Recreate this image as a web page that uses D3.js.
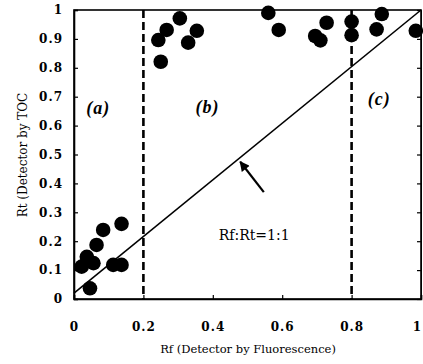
<!DOCTYPE html>
<html><head><meta charset="utf-8">
<script src="https://cdn.jsdelivr.net/npm/d3@7"></script>
<style>body{margin:0;background:#fff;} svg{display:block;}</style>
</head><body>
<script>
// Data
const rfValues = [0.046, 0.022, 0.037, 0.056, 0.065, 0.084, 0.137, 0.113, 0.137,
                  0.243, 0.25, 0.267, 0.305, 0.329, 0.354, 0.56, 0.59, 0.695, 0.71, 0.728,
                  0.80, 0.80, 0.872, 0.887, 0.985];
const rtValues = [0.037, 0.112, 0.146, 0.124, 0.187, 0.239, 0.26, 0.118, 0.118,
                  0.896, 0.821, 0.931, 0.971, 0.887, 0.928, 0.99, 0.931, 0.91, 0.895, 0.956,
                  0.96, 0.913, 0.933, 0.986, 0.928];
const xTicks = [0, 0.2, 0.4, 0.6, 0.8, 1];
const yTicks = [0, 0.1, 0.2, 0.3, 0.4, 0.5, 0.6, 0.7, 0.8, 0.9, 1];
const regionBounds = [0.2, 0.8];
const regionLabels = ["(a)", "(b)", "(c)"];
const regionLabelX = [0.07, 0.385, 0.88];
const regionLabelY = [0.64, 0.645, 0.67];
const lineRf = [0, 1];
const lineRt = [0.02, 1];
const arrowTail = [0.547, 0.37];
const arrowTip = [0.479, 0.475];
const lineLabel = "Rf:Rt=1:1";
const xTitle = "Rf (Detector by Fluorescence)";
const yTitle = "Rt (Detector by TOC";

const W = 423, H = 364;
const mLeft = 74, mRight = 421, mTop = 10, mBottom = 299;
const svg = d3.select("body").append("svg").attr("width", W).attr("height", H);
const x = d3.scaleLinear().domain([0, 1]).range([mLeft, mRight]);
const y = d3.scaleLinear().domain([0, 1]).range([mBottom, mTop]);
const font = "'DejaVu Serif', 'Liberation Serif', serif";
const fontTimes = "'Liberation Serif', 'DejaVu Serif', serif";

// frame
svg.append("rect").attr("x", mLeft).attr("y", mTop).attr("width", mRight - mLeft).attr("height", mBottom - mTop)
  .attr("fill", "none").attr("stroke", "#000").attr("stroke-width", 1.6);

// axes with inward ticks
const xAxis = svg.append("g").attr("transform", `translate(0,${mBottom})`)
  .call(d3.axisBottom(x).tickValues(xTicks).tickSize(-4).tickPadding(23).tickFormat(d => d3.format("")(d)));
const yAxis = svg.append("g").attr("transform", `translate(${mLeft},0)`)
  .call(d3.axisLeft(y).tickValues(yTicks).tickSize(-4).tickPadding(11).tickFormat(d => d3.format("")(d)));
svg.append("g").attr("transform", `translate(${mRight},0)`)
  .call(d3.axisRight(y).tickValues(yTicks).tickSize(-4).tickFormat(""));
[xAxis, yAxis].forEach(g => {
  g.select(".domain").attr("stroke", "#000").attr("stroke-width", 1.6);
  g.selectAll("text").attr("font-family", font).attr("font-size", 12).attr("font-weight", "bold")
    .attr("letter-spacing", 1).attr("fill", "#000");
});
xAxis.selectAll(".tick text").filter(d => d === 1).attr("dx", -4);
svg.selectAll(".tick line").attr("stroke", "#000").attr("stroke-width", 1.2);

// dashed region boundaries
svg.selectAll(".bound").data(regionBounds).enter().append("line")
  .attr("x1", d => x(d)).attr("x2", d => x(d)).attr("y1", y(1)).attr("y2", y(0))
  .attr("stroke", "#000").attr("stroke-width", 2.6).attr("stroke-dasharray", "8,4");

// 1:1 line
svg.append("line").attr("x1", x(lineRf[0])).attr("y1", y(lineRt[0]))
  .attr("x2", x(lineRf[1])).attr("y2", y(lineRt[1])).attr("stroke", "#000").attr("stroke-width", 1.6);

// arrow
svg.append("defs").append("marker").attr("id", "ah").attr("viewBox", "0 0 10 10").attr("refX", 9).attr("refY", 5)
  .attr("markerWidth", 12).attr("markerHeight", 10).attr("markerUnits", "userSpaceOnUse").attr("orient", "auto")
  .append("path").attr("d", "M0,0 L10,5 L0,10 Z").attr("fill", "#000");
svg.append("line").attr("x1", x(arrowTail[0])).attr("y1", y(arrowTail[1]))
  .attr("x2", x(arrowTip[0])).attr("y2", y(arrowTip[1])).attr("stroke", "#000").attr("stroke-width", 2.2)
  .attr("marker-end", "url(#ah)");

// points
svg.selectAll(".pt").data(rfValues).enter().append("circle")
  .attr("cx", d => x(d)).attr("cy", (d, i) => y(rtValues[i])).attr("r", 7.3).attr("fill", "#000");

// region labels
svg.selectAll(".rl").data(regionLabels).enter().append("text")
  .attr("x", (d, i) => x(regionLabelX[i])).attr("y", (d, i) => y(regionLabelY[i]))
  .attr("text-anchor", "middle").attr("font-family", fontTimes).attr("font-size", 18)
  .attr("letter-spacing", 1).attr("font-style", "italic").attr("font-weight", "bold").text(d => d);

svg.append("text").attr("x", x(0.417)).attr("y", y(0.203)).attr("font-family", font).attr("font-size", 14)
  .text(lineLabel);

svg.append("text").attr("x", 248).attr("y", 353).attr("text-anchor", "middle")
  .attr("font-family", font).attr("font-size", 11.5).text(xTitle);
svg.append("text").attr("transform", `translate(27,155) rotate(-90)`).attr("text-anchor", "middle")
  .attr("font-family", font).attr("font-size", 12).text(yTitle);
</script>
</body></html>
